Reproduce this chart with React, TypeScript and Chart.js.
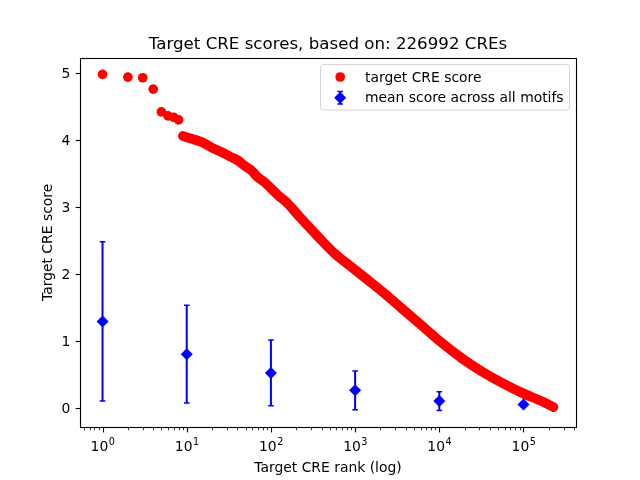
import React, { useEffect, useRef } from "react";
import { Chart, registerables } from "chart.js";

Chart.register(...registerables);

const TITLE = "Target CRE scores, based on: 226992 CREs";
const X_LABEL = "Target CRE rank (log)";
const Y_LABEL = "Target CRE score";
const LEGEND_LABELS = ["target CRE score", "mean score across all motifs"];

// top-ranked CREs (individually visible markers)
const topRanks = [1, 2, 3, 4, 5, 6, 7, 8];
const topScores = [4.98, 4.94, 4.93, 4.76, 4.42, 4.36, 4.34, 4.3];

// dense part of the ranked score curve
const denseRanks = [
  9, 10, 12, 15, 21, 26, 33, 40, 48, 58, 69, 84, 100, 125, 150, 227, 360, 565, 890, 1410, 2220,
  3540, 6150, 10700, 18500, 32200, 56000, 97000, 169000, 226992,
];
const denseScores = [
  4.06, 4.04, 4.01, 3.97, 3.87, 3.82, 3.75, 3.7, 3.62, 3.55, 3.45, 3.37, 3.28, 3.16, 3.08, 2.83,
  2.56, 2.31, 2.11, 1.91, 1.71, 1.49, 1.23, 0.97, 0.74, 0.54, 0.37, 0.22, 0.09, 0.01,
];

// mean score across all motifs, with error bars
const meanRanks = [1, 10, 100, 1000, 10000, 100000];
const meanScores = [1.29, 0.8, 0.52, 0.26, 0.1, 0.05];
const meanErrors = [1.19, 0.73, 0.49, 0.29, 0.14, 0.03];

const yTicks = [0, 1, 2, 3, 4, 5];
const xMajorExponents = [0, 1, 2, 3, 4, 5];

const X_MIN = Math.pow(10, -0.2678);
const X_MAX = Math.pow(10, 5.6238);
const Y_MIN = -0.291;
const Y_MAX = 5.231;

const FONT = "'DejaVu Sans', 'Liberation Sans', sans-serif";
const FS = 13.9;

const mplPlugin = {
  id: "mplPlugin",
  beforeDatasetDraw(chart: any, args: any) {
    if (args.index !== 0) return;
    const { ctx, chartArea, scales } = chart;
    const x = scales.x;
    const y = scales.y;
    ctx.save();
    ctx.beginPath();
    ctx.rect(chartArea.left, chartArea.top, chartArea.right - chartArea.left, chartArea.bottom - chartArea.top);
    ctx.clip();
    ctx.strokeStyle = "#0000ff";
    meanRanks.forEach((r, i) => {
      const px = x.getPixelForValue(r);
      const top = y.getPixelForValue(meanScores[i] + meanErrors[i]);
      const bot = y.getPixelForValue(meanScores[i] - meanErrors[i]);
      ctx.lineWidth = 2;
      ctx.beginPath();
      ctx.moveTo(px, top);
      ctx.lineTo(px, bot);
      ctx.stroke();
      ctx.lineWidth = 1.5;
      ctx.beginPath();
      ctx.moveTo(px - 2.8, top);
      ctx.lineTo(px + 2.8, top);
      ctx.moveTo(px - 2.8, bot);
      ctx.lineTo(px + 2.8, bot);
      ctx.stroke();
    });
    ctx.restore();
  },
  afterDraw(chart: any) {
    const { ctx, chartArea, scales } = chart;
    const x = scales.x;
    const y = scales.y;
    const L = chartArea.left;
    const R = chartArea.right;
    const T = chartArea.top;
    const B = chartArea.bottom;
    ctx.save();

    // frame
    ctx.strokeStyle = "#000";
    ctx.lineWidth = 1.1;
    ctx.strokeRect(Math.round(L) + 0.5, Math.round(T) + 0.5, Math.round(R) - Math.round(L), Math.round(B) - Math.round(T));

    // y ticks and labels
    ctx.fillStyle = "#000";
    ctx.font = `${FS}px ${FONT}`;
    ctx.textAlign = "right";
    ctx.textBaseline = "middle";
    yTicks.forEach((v) => {
      const py = Math.round(y.getPixelForValue(v)) + 0.5;
      ctx.lineWidth = 1.1;
      ctx.beginPath();
      ctx.moveTo(Math.round(L) + 0.5, py);
      ctx.lineTo(Math.round(L) + 0.5 - 4.9, py);
      ctx.stroke();
      ctx.fillText(String(v), L - 9.7, py + 0.5);
    });

    // x ticks: major and minor (log)
    const bottomY = Math.round(B) + 0.5;
    for (let e = -1; e <= 5; e++) {
      for (let m = 1; m <= 9; m++) {
        const v = m * Math.pow(10, e);
        if (v < X_MIN || v > X_MAX) continue;
        const px = Math.round(x.getPixelForValue(v)) + 0.5;
        const major = m === 1;
        ctx.lineWidth = major ? 1.1 : 0.8;
        ctx.beginPath();
        ctx.moveTo(px, bottomY);
        ctx.lineTo(px, bottomY + (major ? 4.9 : 2.8));
        ctx.stroke();
      }
    }
    // x major labels with superscripts
    ctx.textBaseline = "alphabetic";
    ctx.textAlign = "left";
    xMajorExponents.forEach((e) => {
      const px = x.getPixelForValue(Math.pow(10, e));
      ctx.font = `${FS}px ${FONT}`;
      const w1 = ctx.measureText("10").width;
      ctx.font = `${FS * 0.7}px ${FONT}`;
      const w2 = ctx.measureText(String(e)).width;
      const start = px - (w1 + w2) / 2;
      ctx.font = `${FS}px ${FONT}`;
      ctx.fillText("10", start, 450.5);
      ctx.font = `${FS * 0.7}px ${FONT}`;
      ctx.fillText(String(e), start + w1 + 0.5, 444.5);
    });

    // axis labels
    ctx.font = `${FS}px ${FONT}`;
    ctx.textAlign = "center";
    ctx.textBaseline = "alphabetic";
    ctx.fillText(X_LABEL, (L + R) / 2, 472);
    ctx.save();
    ctx.translate(52, (T + B) / 2);
    ctx.rotate(-Math.PI / 2);
    ctx.fillText(Y_LABEL, 0, 0);
    ctx.restore();

    // title
    ctx.font = `${16.67}px ${FONT}`;
    ctx.fillText(TITLE, (L + R) / 2, 49.3);

    // legend
    const bx = 320.5;
    const by = 64.5;
    const bw = 249;
    const bh = 45.5;
    const r = 2.8;
    ctx.beginPath();
    ctx.moveTo(bx + r, by);
    ctx.lineTo(bx + bw - r, by);
    ctx.quadraticCurveTo(bx + bw, by, bx + bw, by + r);
    ctx.lineTo(bx + bw, by + bh - r);
    ctx.quadraticCurveTo(bx + bw, by + bh, bx + bw - r, by + bh);
    ctx.lineTo(bx + r, by + bh);
    ctx.quadraticCurveTo(bx, by + bh, bx, by + bh - r);
    ctx.lineTo(bx, by + r);
    ctx.quadraticCurveTo(bx, by, bx + r, by);
    ctx.closePath();
    ctx.fillStyle = "rgba(255,255,255,0.8)";
    ctx.fill();
    ctx.strokeStyle = "rgba(204,204,204,0.8)";
    ctx.lineWidth = 1;
    ctx.stroke();

    const hx = 340.2;
    const row1 = 77;
    const row2 = 97.7;
    // red dot
    ctx.fillStyle = "#ff0000";
    ctx.beginPath();
    ctx.arc(hx, row1, 4.85, 0, Math.PI * 2);
    ctx.fill();
    // blue errorbar + diamond
    ctx.strokeStyle = "#0000ff";
    ctx.lineWidth = 2;
    ctx.beginPath();
    ctx.moveTo(hx, row2 - 6.3);
    ctx.lineTo(hx, row2 + 6.3);
    ctx.stroke();
    ctx.lineWidth = 1.5;
    ctx.beginPath();
    ctx.moveTo(hx - 2.8, row2 - 6.3);
    ctx.lineTo(hx + 2.8, row2 - 6.3);
    ctx.moveTo(hx - 2.8, row2 + 6.3);
    ctx.lineTo(hx + 2.8, row2 + 6.3);
    ctx.stroke();
    ctx.fillStyle = "#0000ff";
    ctx.beginPath();
    ctx.moveTo(hx - 6, row2);
    ctx.lineTo(hx, row2 - 6);
    ctx.lineTo(hx + 6, row2);
    ctx.lineTo(hx, row2 + 6);
    ctx.closePath();
    ctx.fill();

    ctx.fillStyle = "#000";
    ctx.font = `${FS}px ${FONT}`;
    ctx.textAlign = "left";
    ctx.textBaseline = "alphabetic";
    ctx.fillText(LEGEND_LABELS[0], 365, row1 + 4.6);
    ctx.fillText(LEGEND_LABELS[1], 365, row2 + 4.6);

    ctx.restore();
  },
};

export default function App() {
  const canvasRef = useRef<HTMLCanvasElement | null>(null);

  useEffect(() => {
    document.body.style.margin = "0";
    const canvas = canvasRef.current;
    if (!canvas) return;
    const chart = new Chart(canvas, {
      type: "scatter",
      data: {
        datasets: [
          {
            label: LEGEND_LABELS[1],
            data: meanRanks.map((r, i) => ({ x: r, y: meanScores[i] })),
            pointStyle: "rectRot",
            pointRadius: 6,
            pointBackgroundColor: "#0000ff",
            pointBorderWidth: 0,
            showLine: false,
          },
          {
            label: LEGEND_LABELS[0],
            data: topRanks.map((r, i) => ({ x: r, y: topScores[i] })),
            pointRadius: 4.85,
            pointBackgroundColor: "#ff0000",
            pointBorderWidth: 0,
            showLine: false,
          },
          {
            label: "dense",
            data: denseRanks.map((r, i) => ({ x: r, y: denseScores[i] })),
            pointRadius: 0,
            showLine: true,
            borderColor: "#ff0000",
            borderWidth: 9.7,
            borderCapStyle: "round",
            borderJoinStyle: "round",
            cubicInterpolationMode: "monotone",
          },
        ],
      } as any,
      options: {
        responsive: false,
        animation: false,
        devicePixelRatio: 1,
        layout: { padding: { left: 80, right: 64, top: 57.6, bottom: 52.8 } },
        plugins: {
          legend: { display: false },
          title: { display: false },
          tooltip: { enabled: false },
        },
        events: [],
        scales: {
          x: { type: "logarithmic", min: X_MIN, max: X_MAX, display: false },
          y: { type: "linear", min: Y_MIN, max: Y_MAX, display: false },
        },
      } as any,
      plugins: [mplPlugin],
    });
    return () => chart.destroy();
  }, []);

  return (
    <div style={{ position: "absolute", left: 0, top: 0, width: 640, height: 480, background: "#fff" }}>
      <canvas ref={canvasRef} width={640} height={480} style={{ width: 640, height: 480 }} />
    </div>
  );
}
